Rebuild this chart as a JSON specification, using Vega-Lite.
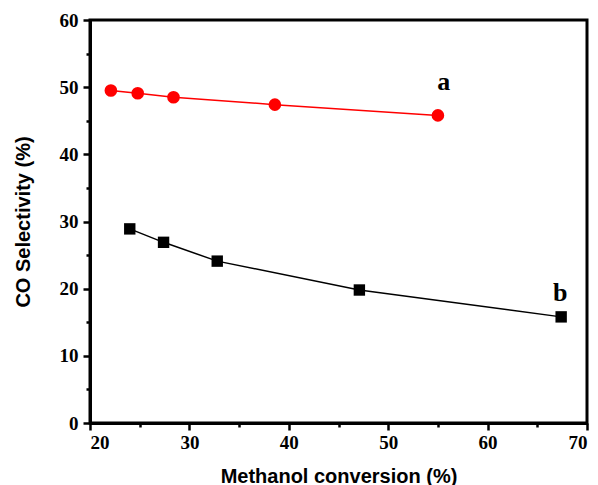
{
  "$schema": "https://vega.github.io/schema/vega-lite/v6.json",
  "autosize": "none",
  "width": 497,
  "height": 403,
  "padding": {"left": 90, "top": 20, "right": 11, "bottom": 62},
  "background": "white",
  "config": {
    "view": {"stroke": "black", "strokeWidth": 3},
    "axis": {
      "domainColor": "black", "domainWidth": 3, "tickColor": "black", "tickWidth": 2.5,
      "grid": false, "labelFont": "Liberation Serif", "labelFontWeight": "bold", "labelFontSize": 19,
      "labelColor": "black", "titleFont": "Liberation Sans", "titleFontWeight": "bold", "titleFontSize": 20,
      "titleColor": "black"
    }
  },
  "datasets": {
    "pts": [
      {"series": "a", "conv": 22.1, "sel": 49.5},
      {"series": "a", "conv": 24.8, "sel": 49.1},
      {"series": "a", "conv": 28.4, "sel": 48.5},
      {"series": "a", "conv": 38.6, "sel": 47.4},
      {"series": "a", "conv": 55.0, "sel": 45.8},
      {"series": "b", "conv": 24.0, "sel": 28.9},
      {"series": "b", "conv": 27.4, "sel": 26.9},
      {"series": "b", "conv": 32.8, "sel": 24.1},
      {"series": "b", "conv": 47.1, "sel": 19.8},
      {"series": "b", "conv": 67.4, "sel": 15.8}
    ],
    "labels": [
      {"series": "a", "conv": 55.6, "sel": 50.7},
      {"series": "b", "conv": 67.3, "sel": 19.3}
    ]
  },
  "layer": [
    {
      "data": {"name": "pts"},
      "mark": {"type": "line", "strokeWidth": 1.5},
      "encoding": {
        "x": {"field": "conv", "type": "quantitative", "scale": {"domain": [20, 70], "nice": false},
              "axis": {"orient": "bottom", "values": [20, 30, 40, 50, 60, 70], "title": "Methanol conversion (%)", "tickSize": 7, "labelPadding": 3, "titlePadding": 14}},
        "y": {"field": "sel", "type": "quantitative", "scale": {"domain": [0, 60], "nice": false},
              "axis": {"orient": "left", "values": [0, 10, 20, 30, 40, 50, 60], "title": "CO Selectivity (%)", "tickSize": 7, "labelPadding": 5, "titlePadding": 26}},
        "color": {"field": "series", "type": "nominal", "scale": {"domain": ["a", "b"], "range": ["#ff0000", "#000000"]}, "legend": null}
      }
    },
    {
      "data": {"name": "pts"},
      "mark": {"type": "point", "filled": true, "opacity": 1},
      "encoding": {
        "x": {"field": "conv", "type": "quantitative",
              "axis": {"orient": "bottom", "values": [25, 35, 45, 55, 65], "labels": false, "title": null, "tickSize": 4, "domain": false}},
        "y": {"field": "sel", "type": "quantitative",
              "axis": {"orient": "left", "values": [5, 15, 25, 35, 45, 55], "labels": false, "title": null, "tickSize": 4, "domain": false}},
        "color": {"field": "series", "type": "nominal", "legend": null},
        "shape": {"field": "series", "type": "nominal", "scale": {"domain": ["a", "b"], "range": ["circle", "square"]}, "legend": null},
        "size": {"field": "series", "type": "nominal", "scale": {"domain": ["a", "b"], "range": [160, 130]}, "legend": null}
      }
    },
    {
      "data": {"name": "labels"},
      "mark": {"type": "text", "font": "Liberation Serif", "fontWeight": "bold", "fontSize": 26, "baseline": "middle", "align": "center"},
      "encoding": {
        "x": {"field": "conv", "type": "quantitative", "axis": null},
        "y": {"field": "sel", "type": "quantitative", "axis": null},
        "text": {"field": "series"},
        "color": {"value": "black"}
      }
    }
  ],
  "resolve": {"axis": {"x": "independent", "y": "independent"}}
}
